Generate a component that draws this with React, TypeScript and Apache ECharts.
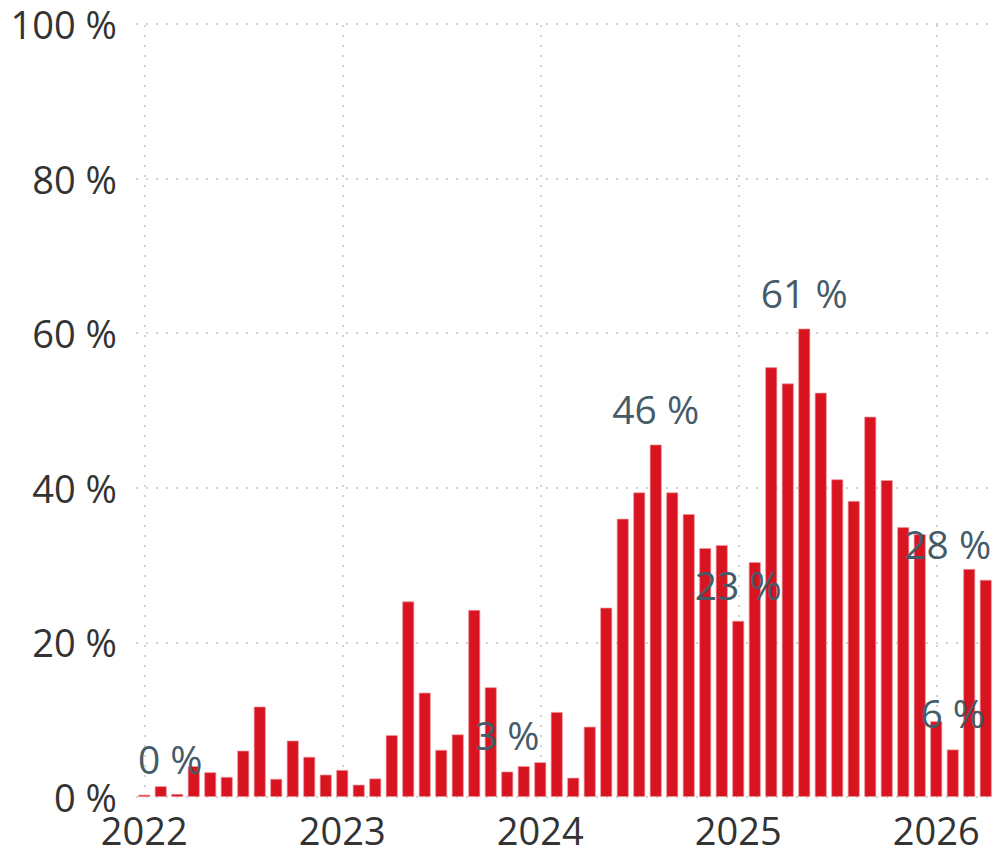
import React, { useEffect, useRef } from "react";
import * as echarts from "echarts";

const categories = [
  "2022-01", "2022-02", "2022-03", "2022-04", "2022-05", "2022-06", "2022-07", "2022-08", "2022-09", "2022-10", "2022-11", "2022-12",
  "2023-01", "2023-02", "2023-03", "2023-04", "2023-05", "2023-06", "2023-07", "2023-08", "2023-09", "2023-10", "2023-11", "2023-12",
  "2024-01", "2024-02", "2024-03", "2024-04", "2024-05", "2024-06", "2024-07", "2024-08", "2024-09", "2024-10", "2024-11", "2024-12",
  "2025-01", "2025-02", "2025-03", "2025-04", "2025-05", "2025-06", "2025-07", "2025-08", "2025-09", "2025-10", "2025-11", "2025-12",
  "2026-01", "2026-02", "2026-03", "2026-04",
];

const shareValues = [
  0.3, 1.4, 0.4, 4.0, 3.2, 2.6, 6.0, 11.7, 2.35, 7.3, 5.2, 2.9,
  3.5, 1.6, 2.4, 8.0, 25.3, 13.5, 6.1, 8.1, 24.2, 14.2, 3.3, 4.0,
  4.5, 11.0, 2.5, 9.1, 24.5, 36.0, 39.4, 45.6, 39.4, 36.6, 32.2, 32.6,
  22.8, 30.4, 55.6, 53.5, 60.6, 52.3, 41.1, 38.3, 49.2, 41.0, 34.9, 34.0,
  9.8, 6.15, 29.5, 28.1,
];

const labeledMonths = ["2022-01", "2023-11", "2024-08", "2025-01", "2025-05", "2026-02", "2026-04"];
const yearTicks = ["2022-01", "2023-01", "2024-01", "2025-01", "2026-01"];
const yMin = 0;
const yMax = 100;
const yStep = 20;

const FONT = "'Open Sans', 'Segoe UI', sans-serif";
const GRID_COLOR = "#c4c4c4";

export default function App() {
  const ref = useRef<HTMLDivElement>(null);

  useEffect(() => {
    if (!ref.current) return;
    const chart = echarts.init(ref.current, null, { renderer: "svg" });
    const last = shareValues.length - 1;

    const data = shareValues.map((v, i) => {
      const show = labeledMonths.includes(categories[i]);
      let offset = [0, 0];
      if (i === 0) offset = [26, 0];
      if (i === last) offset = [-38, 0];
      return {
        value: v,
        label: { show, offset },
      };
    });

    chart.setOption({
      animation: false,
      grid: { left: 136, right: 0, top: 24, bottom: 53, containLabel: false },
      xAxis: {
        type: "category",
        data: categories,
        boundaryGap: true,
        axisLine: { show: false },
        axisTick: { show: false },
        splitLine: { show: false },
        axisLabel: {
          interval: (idx: number, val: string) => yearTicks.includes(val),
          formatter: (val: string) => val.slice(0, 4),
          fontFamily: FONT,
          fontSize: 38,
          lineHeight: 30,
          color: "#333333",
          margin: 18,
        },
      },
      yAxis: {
        type: "value",
        min: yMin,
        max: yMax,
        interval: yStep,
        axisLine: { show: false },
        axisTick: { show: false },
        axisLabel: {
          formatter: "{value} %",
          fontFamily: FONT,
          fontSize: 38,
          lineHeight: 38,
          color: "#333333",
          margin: 19,
        },
        splitLine: {
          show: true,
          lineStyle: { color: GRID_COLOR, type: [2, 8], width: 1.5 },
        },
      },
      series: [
        {
          type: "bar",
          data,
          barWidth: 12,
          itemStyle: {
            color: "#d7141f",
            borderColor: "rgba(240,150,156,0.9)",
            borderWidth: 0.8,
          },
          label: {
            show: false,
            position: "top",
            distance: 17,
            fontFamily: FONT,
            fontSize: 39,
            color: "#465b68",
            formatter: (p: any) => Math.round(p.value) + " %",
          },
          emphasis: { disabled: true },
          markLine: {
            silent: true,
            z: 1,
            symbol: ["none", "none"],
            label: { show: false },
            lineStyle: { color: GRID_COLOR, type: [2, 8], width: 1.5 },
            data: yearTicks.map((m) => ({ xAxis: m })),
          },
        },
      ],
    });

    return () => chart.dispose();
  }, []);

  return (
    <div
      ref={ref}
      style={{ position: "fixed", left: 0, top: 0, width: 994, height: 850, background: "#fff" }}
    />
  );
}
